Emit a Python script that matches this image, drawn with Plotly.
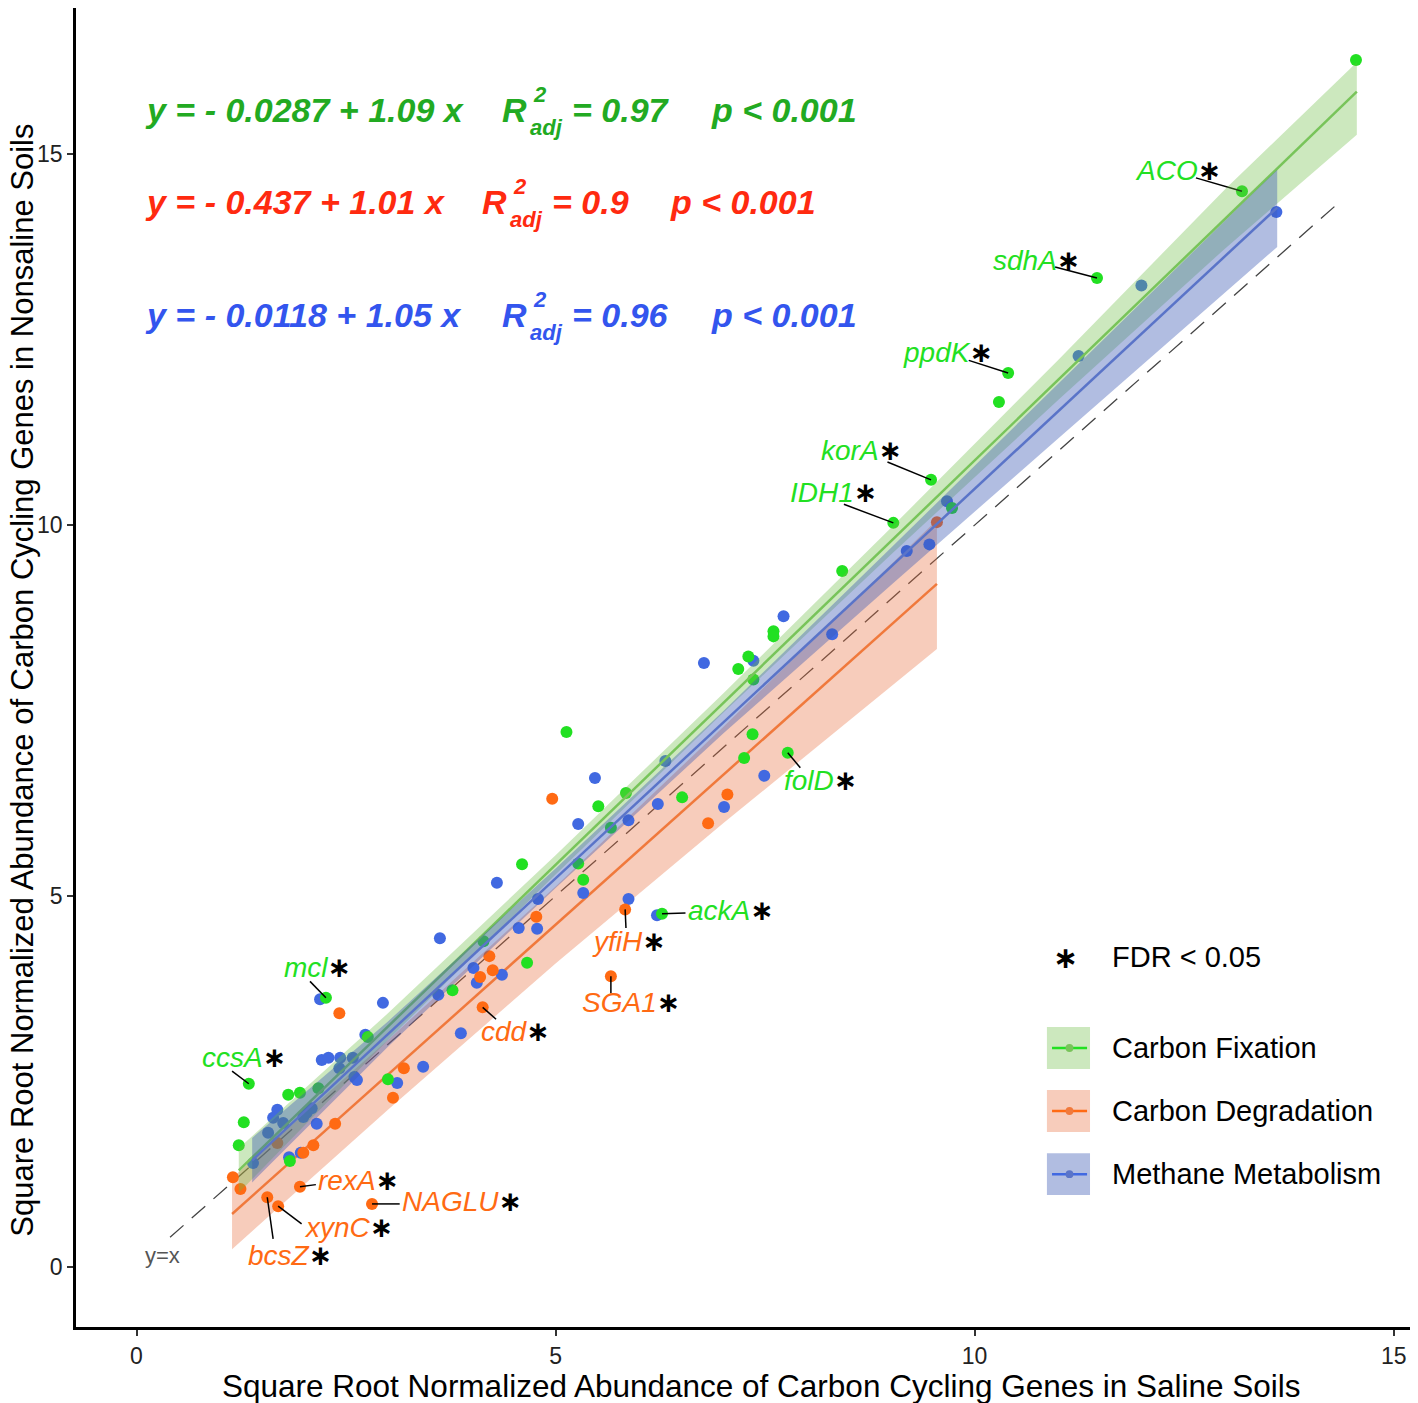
import numpy as np
import plotly.graph_objects as go

# ---- data (square-root normalized abundance: saline x, nonsaline y) ----
fix_x = [14.55, 10.29, 9.73, 8.42, 7.60, 7.60, 7.30, 7.18, 7.36, 5.13, 7.35, 7.25, 5.84, 6.51, 5.51,
         5.66, 4.60, 5.27, 5.33, 4.14, 4.66, 3.77, 2.76, 3.00, 1.81, 1.95, 2.17, 1.28, 1.22, 1.83]
fix_y = [16.27, 11.66, 10.23, 9.38, 8.57, 8.50, 8.23, 8.06, 7.92, 7.21, 7.18, 6.86, 6.39, 6.33, 6.21,
         5.92, 5.43, 5.44, 5.22, 4.39, 4.10, 3.73, 3.10, 2.53, 2.32, 2.35, 2.41, 1.95, 1.64, 1.43]

deg_x = [9.55, 4.96, 7.05, 6.82, 4.77, 4.21, 4.25, 4.10, 2.42, 3.19, 3.06, 2.37, 2.11, 1.99, 1.68, 1.15, 1.24]
deg_y = [10.04, 6.31, 6.37, 5.98, 4.72, 4.19, 4.00, 3.91, 3.42, 2.68, 2.28, 1.93, 1.64, 1.54, 1.67, 1.21, 1.05]

met_x = [13.60, 11.99, 11.24, 9.67, 9.46, 9.19, 7.72, 8.30, 7.36, 6.77, 6.31, 7.49, 5.47, 5.27, 5.87,
         6.22, 7.01, 4.30, 4.79, 5.33, 5.87, 6.21, 4.56, 4.78, 3.62, 4.02, 4.36, 4.06, 3.60, 2.94,
         2.19, 3.87, 2.73, 2.21, 2.29, 2.43, 2.58, 2.42, 2.60, 3.42, 3.11, 1.68, 1.63, 1.75, 1.99,
         2.15, 1.57, 1.96, 1.82, 1.39, 2.03, 2.09, 2.63]
met_y = [14.22, 13.23, 12.28, 10.32, 9.74, 9.65, 8.77, 8.53, 8.17, 8.14, 6.82, 6.62, 6.59, 5.97, 6.02,
         6.24, 6.20, 5.18, 4.96, 5.04, 4.96, 4.74, 4.57, 4.56, 4.43, 4.03, 3.94, 3.83, 3.67, 3.56,
         3.61, 3.15, 3.13, 2.79, 2.82, 2.82, 2.82, 2.68, 2.56, 2.70, 2.48, 2.12, 2.01, 1.94, 2.02,
         1.93, 1.81, 1.54, 1.48, 1.40, 2.08, 2.14, 2.52]

# significant genes (FDR < 0.05): name, group, x, y
genes = ["ACO", "sdhA", "ppdK", "korA", "IDH1", "folD", "ackA", "mcl", "ccsA",
         "yfiH", "SGA1", "cdd", "rexA", "NAGLU", "bcsZ", "xynC"]
gene_group = ["fix"] * 9 + ["deg"] * 7
gene_x = [13.19, 11.46, 10.40, 9.48, 9.03, 7.77, 6.27, 2.26, 1.34, 5.83, 5.66, 4.13, 1.95, 2.81, 1.56, 1.69]
gene_y = [14.50, 13.33, 12.05, 10.61, 10.03, 6.93, 4.76, 3.63, 2.47, 4.82, 3.92, 3.50, 1.08, 0.85, 0.94, 0.82]
# label text anchor (left edge, middle) and leader-line end
label_x = [11.89, 10.20, 9.12, 8.14, 7.77, 7.70, 6.56, 1.74, 0.76, 5.41, 5.29, 4.09, 2.14, 3.14, 1.31, 1.97]
label_y = [14.78, 13.57, 12.33, 11.01, 10.44, 6.56, 4.80, 4.04, 2.82, 4.39, 3.56, 3.18, 1.16, 0.88, 0.15, 0.53]
lead_x = [12.64, 10.96, 9.93, 8.96, 8.44, 7.92, 6.55, 2.07, 1.14, 5.84, 5.66, 4.29, 2.14, 3.14, 1.63, 1.97]
lead_y = [14.68, 13.48, 12.22, 10.85, 10.28, 6.73, 4.77, 3.85, 2.64, 4.57, 3.69, 3.34, 1.11, 0.85, 0.38, 0.58]

# regression fits (intercept, slope, x-span) and confidence ribbons
fits = {
    "fix": dict(a=-0.0287, b=1.09, r2="0.97", lo=1.22, hi=14.56),
    "deg": dict(a=-0.437, b=1.01, r2="0.9", lo=1.14, hi=9.55),
    "met": dict(a=-0.0118, b=1.05, r2="0.96", lo=1.38, hi=13.61),
}
fix_band_x = [1.22, 3, 5, 7, 9, 11, 13, 14.56]
fix_band_up = [1.60, 3.42, 5.55, 7.73, 9.96, 12.23, 14.54, 16.24]
fix_band_lo = [1.00, 3.06, 5.29, 7.47, 9.60, 11.69, 13.74, 15.26]
deg_band_x = [1.14, 3, 5, 7, 9.55]
deg_band_up = [1.20, 3.06, 5.13, 7.28, 10.07]
deg_band_lo = [0.24, 2.12, 4.09, 5.98, 8.33]
met_band_x = [1.38, 3, 5, 7, 9, 11, 13.61]
met_band_up = [1.74, 3.31, 5.37, 7.49, 9.69, 11.91, 14.79]
met_band_lo = [1.14, 2.97, 5.11, 7.19, 9.19, 11.17, 13.75]

pt_col = {"fix": "#22E022", "deg": "#FF6A13", "met": "#4169E1"}
line_col = {"fix": "#78C45A", "deg": "#F0793C", "met": "#5A74C8"}
band_col = {"fix": "rgba(110,190,70,0.35)", "deg": "rgba(232,110,60,0.35)", "met": "rgba(60,90,180,0.40)"}
eq_col = {"fix": "#22AA22", "deg": "#FF2A10", "met": "#3355EE"}
names = {"fix": "Carbon Fixation", "deg": "Carbon Degradation", "met": "Methane Metabolism"}

FONT = "Liberation Sans, Arial, Helvetica, sans-serif"

fig = go.Figure()

bands = {"fix": (fix_band_x, fix_band_up, fix_band_lo),
         "deg": (deg_band_x, deg_band_up, deg_band_lo),
         "met": (met_band_x, met_band_up, met_band_lo)}


def add_fit(g):
    bx, bu, bl = bands[g]
    fig.add_trace(go.Scatter(x=list(bx) + list(bx)[::-1], y=list(bu) + list(bl)[::-1],
                             fill="toself", fillcolor=band_col[g], line=dict(width=0),
                             mode="lines", hoverinfo="skip"))
    f = fits[g]
    xs = np.array([f["lo"], f["hi"]])
    fig.add_trace(go.Scatter(x=xs, y=f["a"] + f["b"] * xs, mode="lines",
                             line=dict(color=line_col[g], width=2.5), hoverinfo="skip"))


# y = x reference
fig.add_trace(go.Scatter(x=[0.4, 14.33], y=[0.4, 14.33], mode="lines",
                         line=dict(color="#444444", width=1.3, dash="18px,11px"), hoverinfo="skip"))

# degradation ribbon sits under the points
add_fit("deg")

pts = {"fix": (fix_x, fix_y), "deg": (deg_x, deg_y), "met": (met_x, met_y)}
for g in ["met", "deg", "fix"]:
    gx = list(pts[g][0]) + [x for x, k in zip(gene_x, gene_group) if k == g]
    gy = list(pts[g][1]) + [y for y, k in zip(gene_y, gene_group) if k == g]
    fig.add_trace(go.Scatter(x=gx, y=gy, mode="markers",
                             marker=dict(color=pt_col[g], size=12, line=dict(width=0)), hoverinfo="skip"))

# leader lines
lx, ly = [], []
for i in range(len(genes)):
    lx += [gene_x[i], lead_x[i], None]
    ly += [gene_y[i], lead_y[i], None]
fig.add_trace(go.Scatter(x=lx, y=ly, mode="lines", line=dict(color="black", width=1.5), hoverinfo="skip"))

# fixation / methane ribbons tint the points beneath
add_fit("fix")
add_fit("met")

# gene labels
for i, gname in enumerate(genes):
    col = pt_col[gene_group[i]]
    fig.add_annotation(x=label_x[i], y=label_y[i], xref="x", yref="y", xanchor="left", yanchor="middle",
                       showarrow=False,
                       text=f"<i>{gname}</i><span style='font-family:DejaVu Sans;color:black'><b>\u2217</b></span>",
                       font=dict(family=FONT, size=28, color=col))

fig.add_annotation(x=0.31, y=0.16, xref="x", yref="y", text="y=x", showarrow=False,
                   font=dict(family=FONT, size=22, color="#555555"))

# regression equations: group, row y, R x, p x
eq_rows = [("fix", 15.59, 4.34, 6.83), ("deg", 14.35, 4.10, 6.34), ("met", 12.83, 4.34, 6.83)]
for g, yv, rx, px in eq_rows:
    f = fits[g]
    a = f"{f['a']:g}".replace("-", "- ")
    eq = f"<b><i>y = {a} + {f['b']:g} x</i></b>"
    c = eq_col[g]
    fnt = dict(family=FONT, size=34, color=c)
    sm = dict(family=FONT, size=22, color=c)
    fig.add_annotation(x=0.078, y=yv, text=eq, xanchor="left", showarrow=False, font=fnt)
    fig.add_annotation(x=rx, y=yv, text="<b><i>R</i></b>", xanchor="left", showarrow=False, font=fnt)
    fig.add_annotation(x=rx + 0.47, y=yv + 0.21, text="<b><i>2</i></b>", showarrow=False, font=sm)
    fig.add_annotation(x=rx + 0.55, y=yv - 0.23, text="<b><i>adj</i></b>", showarrow=False, font=sm)
    fig.add_annotation(x=rx + 0.83, y=yv, text=f"<b><i>= {f['r2']}</i></b>", xanchor="left",
                       showarrow=False, font=fnt)
    fig.add_annotation(x=px, y=yv, text="<b><i>p < 0.001</i></b>", xanchor="left",
                       showarrow=False, font=fnt)

# manual legend
fig.add_annotation(x=0.7377, y=0.2805, xref="paper", yref="paper", xanchor="center", yanchor="middle",
                   showarrow=False, text="<b>\u2217</b>",
                   font=dict(family="DejaVu Sans", size=30, color="black"))
fig.add_annotation(x=0.7705, y=0.2805, xref="paper", yref="paper", xanchor="left", yanchor="middle",
                   showarrow=False, text="FDR < 0.05", font=dict(family=FONT, size=29, color="black"))
for k, g in enumerate(["fix", "deg", "met"]):
    yc = 0.2115 - k * 0.0478
    fig.add_shape(type="rect", xref="paper", yref="paper", x0=0.7235, x1=0.7556,
                  y0=yc - 0.0159, y1=yc + 0.0159, fillcolor=band_col[g], line=dict(width=0))
    fig.add_shape(type="line", xref="paper", yref="paper", x0=0.7273, x1=0.7534, y0=yc, y1=yc,
                  line=dict(color=pt_col[g], width=2.5))
    fig.add_shape(type="circle", xref="paper", yref="paper", x0=0.7374, x1=0.7432,
                  y0=yc - 0.0030, y1=yc + 0.0030, fillcolor=line_col[g], line=dict(width=0))
    fig.add_annotation(x=0.7705, y=yc, xref="paper", yref="paper", xanchor="left", yanchor="middle",
                       showarrow=False, text=names[g], font=dict(family=FONT, size=29, color="black"))

# axis titles
fig.add_annotation(x=0.511, y=-0.0447, xref="paper", yref="paper", xanchor="center", yanchor="middle",
                   showarrow=False,
                   text="Square Root Normalized Abundance of Carbon Cycling Genes in Saline Soils",
                   font=dict(family=FONT, size=31.5, color="black"))
fig.add_annotation(x=-0.0405, y=0.4905, xref="paper", yref="paper", xanchor="center", yanchor="middle",
                   showarrow=False, textangle=-90,
                   text="Square Root Normalized Abundance of Carbon Cycling Genes in Nonsaline Soils",
                   font=dict(family=FONT, size=31, color="black"))

# page body has an 8px margin, so the figure is laid out 8px smaller
fig.update_layout(
    width=1410, height=1395,
    margin=dict(l=68, r=0, t=0, b=76),
    plot_bgcolor="white", paper_bgcolor="white",
    showlegend=False,
    font=dict(family=FONT),
    xaxis=dict(range=[-0.722, 15.29], tickvals=[0, 5, 10, 15], showgrid=False, zeroline=False,
               showline=True, linecolor="black", linewidth=3, ticks="outside", ticklen=6,
               tickwidth=1.5, tickcolor="#333333", tickfont=dict(size=23, color="#222222")),
    yaxis=dict(range=[-0.809, 16.97], tickvals=[0, 5, 10, 15], showgrid=False, zeroline=False,
               showline=True, linecolor="black", linewidth=2.5, ticks="outside", ticklen=6,
               tickwidth=1.5, tickcolor="#333333", tickfont=dict(size=23, color="#222222")),
)

fig.write_html("out.html")
